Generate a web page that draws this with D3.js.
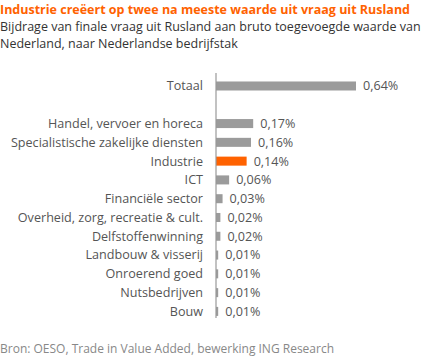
<!DOCTYPE html>
<html>
<head>
<meta charset="utf-8">
<script src="https://cdn.jsdelivr.net/npm/d3@7"></script>
<style>
  body { margin: 0; background: #fff; }
  svg { font-family: "Open Sans", sans-serif; }
</style>
</head>
<body>
<svg width="437" height="360"></svg>
<script>
// sectors, top to bottom ("" is the empty gap row under Totaal)
const sectors = ["Totaal", "", "Handel, vervoer en horeca", "Specialistische zakelijke diensten",
  "Industrie", "ICT", "Financiële sector", "Overheid, zorg, recreatie & cult.",
  "Delfstoffenwinning", "Landbouw & visserij", "Onroerend goed", "Nutsbedrijven", "Bouw"];
const values = [0.64, null, 0.17, 0.16, 0.14, 0.06, 0.03, 0.02, 0.02, 0.01, 0.01, 0.01, 0.01];
const highlight = ["Industrie"];

const svg = d3.select("svg");

// title + subtitle
svg.append("text").attr("x", 0).attr("y", 14)
  .attr("fill", "#ff6200").attr("font-weight", "bold").attr("font-size", 12.5)
  .text("Industrie creëert op twee na meeste waarde uit vraag uit Rusland");
svg.append("text").attr("x", 0).attr("y", 31)
  .attr("fill", "#333").attr("font-size", 12.5)
  .text("Bijdrage van finale vraag uit Rusland aan bruto toegevoegde waarde van");
svg.append("text").attr("x", 0).attr("y", 48)
  .attr("fill", "#333").attr("font-size", 12.5)
  .text("Nederland, naar Nederlandse bedrijfstak");

const axisX = 216;

const x = d3.scaleLinear().domain([0, 0.64]).range([axisX, axisX + 140]);
const y = d3.scaleBand().domain(d3.range(sectors.length))
  .range([76.6, 320.8]).paddingInner(0.52).paddingOuter(0.26);

const data = sectors.map((s, i) => ({ sector: s, value: values[i], i: i }))
  .filter(d => d.value !== null);

// bars
svg.selectAll(".bar").data(data).enter().append("rect")
  .attr("class", "bar")
  .attr("x", x(0))
  .attr("y", d => y(d.i))
  .attr("width", d => x(d.value) - x(0))
  .attr("height", y.bandwidth())
  .attr("fill", d => highlight.includes(d.sector) ? "#ff6200" : "#9b9b9b");

// sector labels
svg.selectAll(".lbl").data(data).enter().append("text")
  .attr("x", 203)
  .attr("y", d => y(d.i) + y.bandwidth() / 2)
  .attr("dy", "0.35em")
  .attr("text-anchor", "end")
  .attr("font-size", 12.6)
  .attr("fill", "#555")
  .text(d => d.sector);

// value labels
svg.selectAll(".val").data(data).enter().append("text")
  .attr("x", d => x(d.value) + 7)
  .attr("y", d => y(d.i) + y.bandwidth() / 2)
  .attr("dy", "0.35em")
  .attr("font-size", 12.6)
  .attr("fill", "#555")
  .text(d => d3.format(".2f")(d.value).replace(".", ",") + "%");

// vertical axis line
svg.append("line")
  .attr("x1", axisX).attr("x2", axisX)
  .attr("y1", 73).attr("y2", 318)
  .attr("stroke", "#999").attr("stroke-width", 1.2);

// source
svg.append("text").attr("x", 0).attr("y", 353)
  .attr("fill", "#888").attr("font-size", 12)
  .text("Bron: OESO, Trade in Value Added, bewerking ING Research");
</script>
</body>
</html>
